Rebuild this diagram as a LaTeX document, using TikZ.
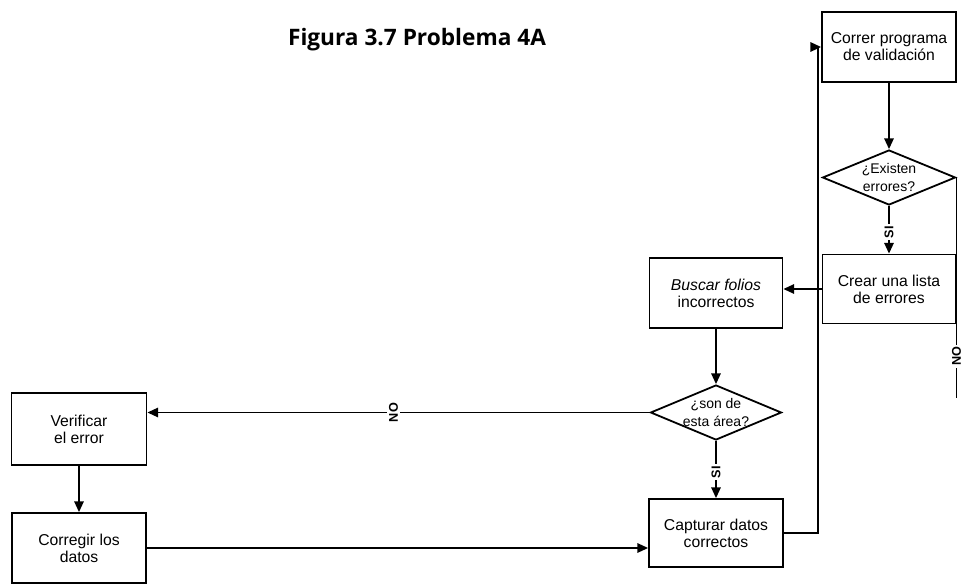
\documentclass[tikz,border=0pt]{standalone}
\usepackage{fontspec}
\setmainfont{Liberation Sans}
\newfontfamily\titlefont{Open Sans}
\usetikzlibrary{shapes.geometric,arrows.meta}

\begin{document}
\begin{tikzpicture}[x=0.75pt,y=-0.75pt,
  line width=1.35pt,
  box/.style={draw, rectangle, inner sep=0pt, align=center,
    font=\fontsize{11.8}{12.8}\selectfont},
  decision/.style={draw, diamond, inner sep=0pt},
  dtext/.style={align=center, inner sep=0pt, font=\fontsize{10.5}{13}\selectfont},
  arr/.style={-{Triangle[length=8pt,width=7pt]}},
  lbl/.style={fill=white, inner sep=1.5pt, rotate=90,
    font=\bfseries\fontsize{9.5}{10}\selectfont},
]
\useasboundingbox (0,0) rectangle (964,585);

% title
\node[font=\titlefont\bfseries\fontsize{17}{19}\selectfont] (title) at (417,40)
  {Figura 3.7 Problema 4A};

% right column
\node[box, minimum width=100.5pt, minimum height=52.5pt] (corr) at (889,47)
  {Correr programa\\de validación};
\node[decision, minimum width=99.75pt, minimum height=41.25pt] (exist) at (889,177.5) {};
\node[dtext] (existtxt) at (exist.center) {¿Existen\\errores?};
\node[box, minimum width=99.75pt, minimum height=51.75pt] (crear) at (889,289)
  {Crear una lista\\de errores};

% middle column
\node[box, minimum width=99.75pt, minimum height=52.5pt] (buscar) at (716,293)
  {\itshape Buscar folios\\incorrectos};
\node[decision, minimum width=98.25pt, minimum height=41.25pt] (son) at (716,412.5) {};
\node[dtext] (sontxt) at (son.center) {¿son de\\esta área?};
\node[box, minimum width=100.5pt, minimum height=51pt] (capt) at (716,533)
  {Capturar datos\\correctos};

% left column
\node[box, minimum width=101.25pt, minimum height=54pt] (verif) at (79,429)
  {Verificar\\el error};
\node[box, minimum width=100.5pt, minimum height=52.5pt] (corr2) at (79,548)
  {Corregir los\\datos};

\coordinate (noend) at (955.5,398);

% connectors
\draw[arr] (corr.south) -- (exist.north);
\draw[arr] (exist.south) -- node[lbl, pos=0.55] {SI} (crear.north);
\draw (exist.east) -- (exist.east |- noend) node[lbl, pos=0.81] {NO};
\draw[arr] (crear.west) -- (crear.west -| buscar.east);
\draw[arr] (buscar.south) -- (son.north);
\draw[arr] (son.west) -- node[lbl, pos=0.51] {NO} (son.west -| verif.east);
\draw[arr] (son.south) -- node[lbl, pos=0.55] {SI} (capt.north);
\draw[arr] (verif.south) -- (corr2.north);
\draw[arr] (corr2.east) -- (corr2.east -| capt.west);
\draw[arr] (capt.east) -- ++(34,0) |- (corr.west);
\end{tikzpicture}
\end{document}
